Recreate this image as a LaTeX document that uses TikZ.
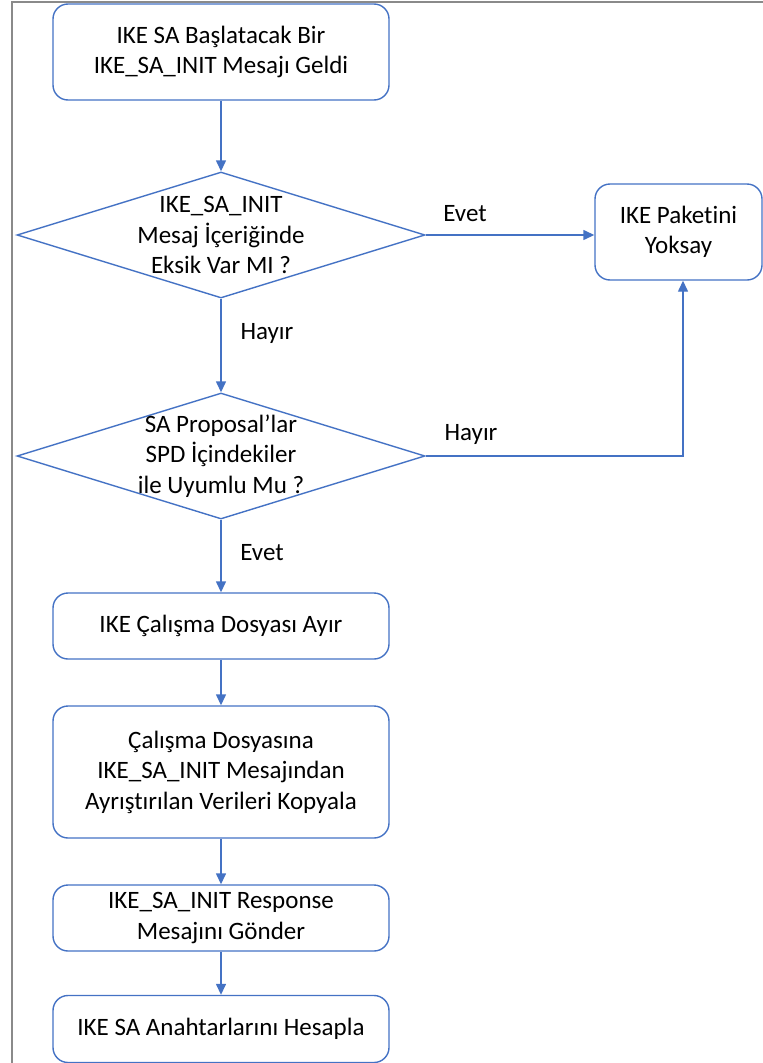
\documentclass[tikz,border=0pt]{standalone}
\usepackage{fontspec}
\setmainfont{Carlito}[Ligatures=NoCommon]
\usetikzlibrary{shapes.geometric,arrows.meta,calc}
\definecolor{flowblue}{HTML}{4472C4}
\definecolor{framegrey}{HTML}{8A8A8A}
\definecolor{ink}{HTML}{000000}
\begin{document}
\begin{tikzpicture}[x=1pt,y=-1pt,
  every node/.style={text=ink,font=\fontsize{25}{30.5}\selectfont},
  procbox/.style={draw=flowblue,line width=1.4pt,rounded corners=15pt,
    minimum width=336pt,align=center,inner sep=0pt},
  decision/.style={draw=flowblue,line width=1.4pt,diamond,
    minimum width=408pt,minimum height=126pt,inner sep=0pt},
  dtext/.style={align=center,inner sep=0pt},
  flow/.style={draw=flowblue,line width=1.4pt,-{Triangle[length=11pt,width=10pt]}},
  edgelabel/.style={inner sep=0pt}]
\useasboundingbox (0,0) rectangle (763,1063);
% frame on the left and top
\draw[framegrey,line width=2pt] (12,1063) -- (12,2) -- (763,2);

% process boxes
\node[procbox,minimum height=96pt] (start) at (221,52)
  {IKE SA Başlatacak Bir\\IKE\_SA\_INIT Mesajı Geldi};
\node[decision] (d1) at (221,235) {};
\node[dtext] at (d1) {IKE\_SA\_INIT\\Mesaj İçeriğinde\\Eksik Var MI ?};
\node[procbox,minimum width=167pt,minimum height=96pt] (ignore) at (678.5,232)
  {IKE Paketini\\Yoksay};
\node[decision] (d2) at (221,456) {};
\node[dtext] at (d2) {SA Proposal’lar\\SPD İçindekiler\\ile Uyumlu Mu ?};
\node[procbox,minimum height=66pt] (alloc) at (221,626)
  {IKE Çalışma Dosyası Ayır};
\node[procbox,minimum height=132pt] (copy) at (221,772)
  {Çalışma Dosyasına\\IKE\_SA\_INIT Mesajından\\Ayrıştırılan Verileri Kopyala};
\node[procbox,minimum height=66pt] (resp) at (221,918)
  {IKE\_SA\_INIT Response\\Mesajını Gönder};
\node[procbox,minimum height=67pt] (keys) at (221,1029)
  {IKE SA Anahtarlarını Hesapla};

% connectors
\draw[flow] (start) -- (d1);
\draw[flow] (d1.east) -- (ignore.west |- d1.east);
\draw[flow] (d1) -- (d2);
\coordinate (turn) at ($(ignore.south)+(4.5,0)$);
\draw[flow] (d2.east) -- (d2.east -| turn) -- (turn);
\draw[flow] (d2) -- (alloc);
\draw[flow] (alloc) -- (copy);
\draw[flow] (copy) -- (resp);
\draw[flow] (resp) -- (keys);

% branch labels
\node[edgelabel] (l1) at (465,214) {Evet};
\node[edgelabel] (l2) at (267,333) {Hayır};
\node[edgelabel] (l3) at (471,434) {Hayır};
\node[edgelabel] (l4) at (262,553) {Evet};
\end{tikzpicture}
\end{document}
